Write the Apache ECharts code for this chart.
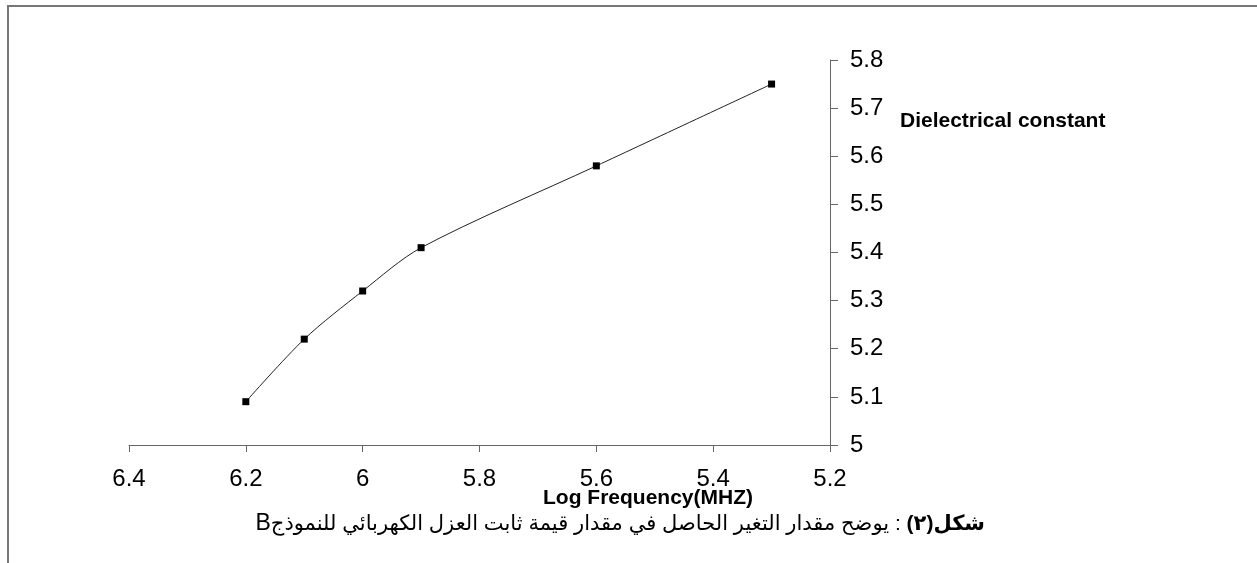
<!DOCTYPE html>
<html>
<head>
<meta charset="utf-8">
<script src="https://cdn.jsdelivr.net/npm/echarts@6/dist/echarts.min.js"></script>
<style>
html,body{margin:0;padding:0;background:#fff;}
#chart{width:1257px;height:563px;}
</style>
</head>
<body>
<div id="chart"></div>
<script>
const logFrequency = [6.2, 6.1, 6.0, 5.9, 5.6, 5.3];
const dielectricConstant = [5.09, 5.22, 5.32, 5.41, 5.58, 5.75];
const xAxisTitle = 'Log Frequency(MHZ)';
const yAxisTitle = 'Dielectrical constant';
const captionBold = 'شكل';
const captionNumber = '(٢)';
const captionText = 'يوضح مقدار التغير الحاصل في مقدار قيمة ثابت العزل الكهربائي للنموذج';
const captionLatin = 'B';

const FONT = "'Liberation Sans', Arial, 'DejaVu Sans', sans-serif";
const fmt = v => String(+(+v).toFixed(1));

const chart = echarts.init(document.getElementById('chart'), null, {renderer: 'canvas'});
chart.setOption({
  animation: false,
  backgroundColor: '#fff',
  grid: {left: 129, right: 427, top: 60, bottom: 118, containLabel: false},
  xAxis: {
    type: 'value', inverse: true, min: 5.2, max: 6.4, interval: 0.2,
    axisLine: {show: true, lineStyle: {color: '#666', width: 1}},
    axisTick: {show: true, inside: false, length: 7, lineStyle: {color: '#666'}},
    splitLine: {show: false},
    axisLabel: {margin: 22, fontSize: 24, color: '#000', fontFamily: FONT, formatter: fmt}
  },
  yAxis: {
    type: 'value', position: 'right', min: 5, max: 5.8, interval: 0.1,
    axisLine: {show: true, onZero: false, lineStyle: {color: '#666', width: 1}},
    axisTick: {show: true, inside: false, length: 8, lineStyle: {color: '#666'}},
    splitLine: {show: false},
    axisLabel: {margin: 20, fontSize: 24, color: '#000', fontFamily: FONT, formatter: fmt}
  },
  series: [{
    type: 'line',
    data: logFrequency.map((x, i) => [x, dielectricConstant[i]]),
    smooth: 0.3,
    symbol: 'rect', symbolSize: 7,
    itemStyle: {color: '#000'},
    lineStyle: {color: '#222', width: 1}
  }],
  graphic: [
    {type: 'line', shape: {x1: 7, y1: 6, x2: 1257, y2: 6}, style: {stroke: '#777', lineWidth: 2}},
    {type: 'line', shape: {x1: 8, y1: 6, x2: 8, y2: 563}, style: {stroke: '#777', lineWidth: 2}},
    {type: 'text', x: 900, y: 121, style: {text: yAxisTitle, font: 'bold 21px ' + FONT, fill: '#000', textAlign: 'left', textVerticalAlign: 'middle'}},
    {type: 'text', x: 648, y: 498, style: {text: xAxisTitle, font: 'bold 21px ' + FONT, fill: '#000', textAlign: 'center', textVerticalAlign: 'middle'}},
    {type: 'text', x: 985, y: 524, style: {
      text: '{l|' + captionLatin + '}{n|' + captionText + '}{n| : }{b|' + captionNumber + '}{b|' + captionBold + '}',
      textAlign: 'right', textVerticalAlign: 'middle',
      rich: {
        l: {fontSize: 23, fontFamily: FONT, color: '#000'},
        n: {fontSize: 21, fontFamily: FONT, color: '#000'},
        b: {fontSize: 21, fontFamily: FONT, fontWeight: 'bold', color: '#000'}
      }
    }}
  ]
});
</script>
</body>
</html>
